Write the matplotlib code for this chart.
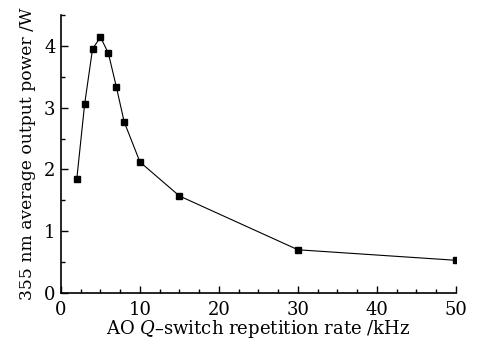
import matplotlib
matplotlib.use("Agg")
import matplotlib.pyplot as plt
from matplotlib.ticker import MultipleLocator

# Datos
rate_khz = [2, 3, 4, 5, 6, 7, 8, 10, 15, 30, 50]
power_w = [1.84, 3.06, 3.95, 4.14, 3.88, 3.34, 2.77, 2.12, 1.57, 0.70, 0.53]

plt.rcParams["font.family"] = "DejaVu Serif"
plt.rcParams["mathtext.fontset"] = "dejavuserif"

fig = plt.figure(figsize=(4.8, 3.46), dpi=100)
ax = fig.add_axes([0.127, 0.153, 0.823, 0.804])

ax.plot(rate_khz, power_w, color="black", linewidth=0.8,
        marker="s", markersize=5, markerfacecolor="black")

ax.set_xlim(0, 50)
ax.set_ylim(0, 4.5)
ax.xaxis.set_major_locator(MultipleLocator(10))
ax.xaxis.set_minor_locator(MultipleLocator(2.5))
ax.yaxis.set_major_locator(MultipleLocator(1))
ax.yaxis.set_minor_locator(MultipleLocator(0.5))

ax.spines["top"].set_visible(False)
ax.spines["right"].set_visible(False)
for s in ("left", "bottom"):
    ax.spines[s].set_linewidth(1.2)

ax.tick_params(which="both", direction="in", width=1.0, labelsize=13)
ax.tick_params(axis="x", pad=6)
ax.tick_params(axis="y", pad=4)
ax.tick_params(which="major", length=5)
ax.tick_params(which="minor", length=3)

ax.set_xlabel(r"AO $Q$–switch repetition rate /kHz", fontsize=13, labelpad=-1)
ax.set_ylabel("355 nm average output power /W", fontsize=12.3, labelpad=6)

fig.savefig("out.png", dpi=100)
